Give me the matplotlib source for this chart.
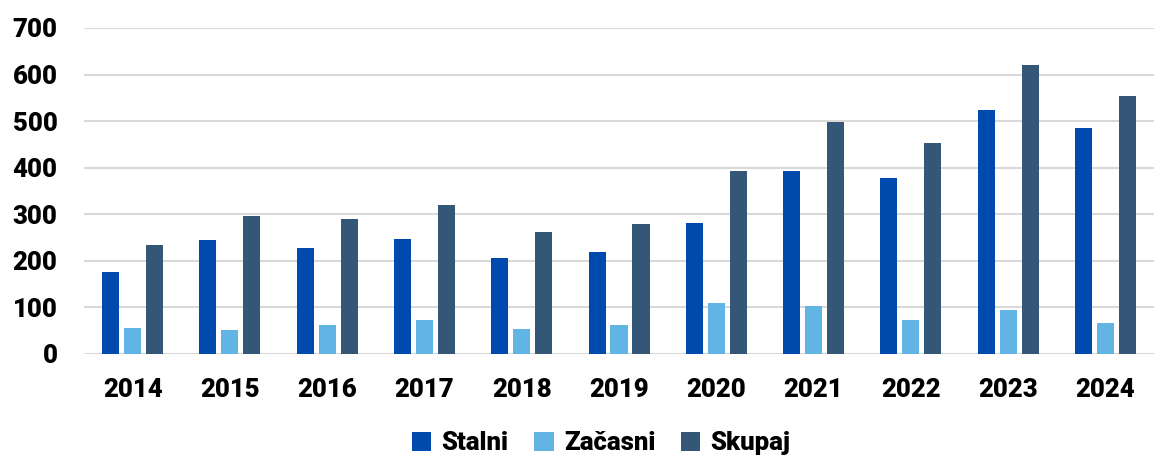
import matplotlib.pyplot as plt
import numpy as np

years = ["2014", "2015", "2016", "2017", "2018", "2019", "2020", "2021", "2022", "2023", "2024"]
stalni = [177, 245, 227, 247, 207, 218, 282, 393, 378, 523, 486]
zacasni = [55, 52, 62, 72, 53, 62, 109, 104, 74, 95, 67]
skupaj = [235, 296, 290, 319, 262, 280, 392, 498, 453, 620, 553]

series = [("Stalni", stalni, "#004AAD"),
          ("Začasni", zacasni, "#62B4E4"),
          ("Skupaj", skupaj, "#345677")]

plt.rcParams["font.family"] = ["Roboto", "DejaVu Sans"]

fig = plt.figure(figsize=(11.54, 4.59), dpi=100)
ax = fig.add_axes([0.0728, 0.2288, 0.9272, 0.7102])

x = np.arange(len(years))
step = 0.226
width = 0.175
for k, (name, vals, color) in enumerate(series):
    ax.bar(x + (k - 1) * step, vals, width, color=color, label=name, zorder=3)

ax.set_xlim(-0.5, len(years) - 0.5)
ax.set_ylim(0, 700)
ax.set_yticks(range(0, 701, 100))
ax.set_xticks(x)
ax.set_xticklabels(years)
ax.grid(axis="y", color="#d9d9d9", linewidth=1.5, zorder=0)
ax.set_axisbelow(True)
for s in ax.spines.values():
    s.set_visible(False)
ax.tick_params(axis="both", length=0, labelsize=18.5)
ax.tick_params(axis="y", pad=19)
ax.tick_params(axis="x", pad=17)
for lab in ax.get_xticklabels() + ax.get_yticklabels():
    lab.set_fontweight(900)

fig.legend(loc="lower center", bbox_to_anchor=(0.521, -0.042), ncol=3, frameon=False,
           prop={"size": 18.5, "weight": 900}, handlelength=0.75, handleheight=0.75,
           columnspacing=1.0, handletextpad=0.4)

fig.savefig("out.png", dpi=100)
